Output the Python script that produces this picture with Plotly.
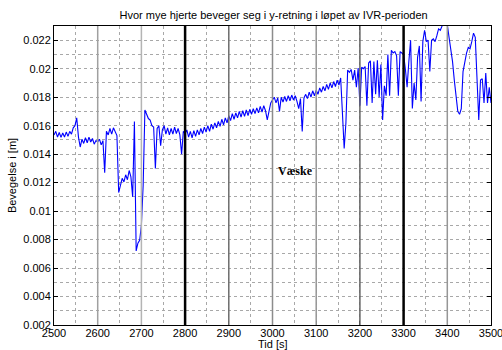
import numpy as np
import plotly.graph_objects as go

# time axis: samples every 4 s from 2500 to 3500
tid = list(range(2500, 3501, 4))

bevegelse = [
    # 2500-2596
    0.01535, 0.01560, 0.01520, 0.01552, 0.01518, 0.01548, 0.01520, 0.01555, 0.01525, 0.01560,
    0.01540, 0.01585, 0.01600, 0.01655, 0.01520, 0.01450, 0.01505, 0.01475, 0.01515, 0.01480,
    0.01520, 0.01485, 0.01510, 0.01470, 0.01495,
    # 2600-2696
    0.01485, 0.01505, 0.01465, 0.01495, 0.01270, 0.01560, 0.01535, 0.01580, 0.01540, 0.01585,
    0.01560, 0.01530, 0.01130, 0.01180, 0.01230, 0.01205, 0.01255, 0.01220, 0.01285, 0.01240,
    0.01100, 0.01630, 0.00720, 0.00775, 0.00795,
    # 2700-2796
    0.00900, 0.01180, 0.01710, 0.01680, 0.01650, 0.01640, 0.01600, 0.01590, 0.01300, 0.01580,
    0.01600, 0.01460, 0.01570, 0.01600, 0.01540, 0.01585, 0.01535, 0.01580, 0.01540, 0.01590,
    0.01545, 0.01580, 0.01535, 0.01400, 0.01560,
    # 2800-2896
    0.01545, 0.01570, 0.01520, 0.01560, 0.01515, 0.01565, 0.01525, 0.01570, 0.01535, 0.01580,
    0.01545, 0.01590, 0.01555, 0.01600, 0.01560, 0.01610, 0.01575, 0.01620, 0.01585, 0.01630,
    0.01595, 0.01645, 0.01605, 0.01655, 0.01620,
    # 2900-2996
    0.01670, 0.01635, 0.01685, 0.01645, 0.01690, 0.01655, 0.01700, 0.01660, 0.01705, 0.01665,
    0.01710, 0.01670, 0.01715, 0.01680, 0.01720, 0.01685, 0.01725, 0.01690, 0.01735, 0.01695,
    0.01740, 0.01705, 0.01640, 0.01700, 0.01760,
    # 3000-3096
    0.01780, 0.01800, 0.01760, 0.01795, 0.01700, 0.01800, 0.01765, 0.01805, 0.01770, 0.01810,
    0.01775, 0.01815, 0.01780, 0.01810, 0.01770, 0.01720, 0.01790, 0.01560, 0.01795, 0.01820,
    0.01790, 0.01835, 0.01800, 0.01845, 0.01810,
    # 3100-3196
    0.01850, 0.01820, 0.01865, 0.01835, 0.01875, 0.01845, 0.01890, 0.01855, 0.01900, 0.01865,
    0.01910, 0.01875, 0.01920, 0.01885, 0.01935, 0.01690, 0.01440, 0.01620, 0.01990, 0.01975,
    0.01995, 0.01920, 0.01990, 0.01870, 0.02005,
    # 3200-3296
    0.01740, 0.02010, 0.02000, 0.02015, 0.01740, 0.02040, 0.02055, 0.01760, 0.02050, 0.01820,
    0.02060, 0.01800, 0.02030, 0.01640, 0.01880, 0.01810, 0.02100, 0.01810, 0.02130, 0.02110,
    0.02120, 0.02090, 0.01810, 0.02120, 0.02110,
    # 3300-3396
    0.02100, 0.02000, 0.01870, 0.02050, 0.02200, 0.01720, 0.01900, 0.01780, 0.02080, 0.02160,
    0.01770, 0.02190, 0.02270, 0.02190, 0.02200, 0.01980, 0.02200, 0.02210, 0.02190, 0.02230,
    0.02280, 0.02270, 0.02310, 0.02330, 0.02320,
    # 3400-3500
    0.02310, 0.02220, 0.02150, 0.02050, 0.01920, 0.01800, 0.01700, 0.01680, 0.01720, 0.01980,
    0.02060, 0.02110, 0.02150, 0.02140, 0.02190, 0.02250, 0.02220, 0.01920, 0.01640, 0.01920,
    0.01930, 0.01760, 0.01970, 0.01760, 0.01870, 0.01760,
]

event_times = [2600, 2700, 2800, 2900, 3000, 3100, 3200, 3300, 3400]
event_colors = ["#a0a0a0", "#b4b4b4", "#000000", "#6e6e6e", "#8c8c8c",
                "#969696", "#646464", "#000000", "#969696"]
event_widths = [1.5, 1.5, 2.5, 1.5, 1.5, 1.5, 1.5, 2.5, 1.5]

xticks = [2500, 2600, 2700, 2800, 2900, 3000, 3100, 3200, 3300, 3400, 3500]
yticks = [0.002, 0.004, 0.006, 0.008, 0.01, 0.012, 0.014, 0.016, 0.018, 0.02, 0.022]
ytick_labels = ["0.002", "0.004", "0.006", "0.008", "0.01", "0.012", "0.014",
                "0.016", "0.018", "0.02", "0.022"]

fig = go.Figure()
fig.add_trace(go.Scatter(x=tid, y=bevegelse, mode="lines",
                         line=dict(color="rgb(0,0,255)", width=1.1),
                         showlegend=False, hoverinfo="skip"))

shapes = []
for t, c, w in zip(event_times, event_colors, event_widths):
    shapes.append(dict(type="line", xref="x", yref="paper", x0=t, x1=t, y0=0, y1=1,
                       line=dict(color=c, width=w), layer="above"))
fig.update_layout(shapes=shapes)

fig.add_annotation(x=3053, y=0.0128, text="<b>Væske</b>", showarrow=False,
                   font=dict(family="Liberation Serif", size=12, color="black"))
# x-axis title placed explicitly below the tick labels
fig.add_annotation(x=0.5, xref="paper", y=-0.063, yref="paper", text="Tid [s]",
                   showarrow=False, xanchor="center", yanchor="middle",
                   font=dict(family="Liberation Sans", size=11, color="black"))

axis_common = dict(showline=True, linecolor="black", linewidth=1, mirror="ticks",
                   ticks="inside", ticklen=4, tickcolor="black", automargin=False,
                   zeroline=False, showgrid=True, gridcolor="#a8a8a8", griddash="dot",
                   gridwidth=1, ticklabeloverflow="allow",
                   tickfont=dict(family="Liberation Sans", size=11, color="black"))

fig.update_xaxes(range=[2500, 3500], tickvals=xticks, **axis_common,
                 ticklabelstandoff=-2,
                 minor=dict(dtick=50, tick0=2500, showgrid=True, gridcolor="#a8a8a8",
                            griddash="dot", ticks=""))
fig.update_yaxes(range=[0.002, 0.023], tickvals=yticks, ticktext=ytick_labels, **axis_common,
                 minor=dict(dtick=0.001, tick0=0.002, showgrid=True, gridcolor="#a8a8a8",
                            griddash="dot", ticks=""),
                 title=dict(text="Bevegelse i [m]", standoff=4,
                            font=dict(family="Liberation Sans", size=11, color="black")))

fig.update_layout(
    width=502, height=350,
    margin=dict(l=54, r=11, t=26, b=25),
    paper_bgcolor="white", plot_bgcolor="white",
    title=dict(text="Hvor mye hjerte beveger seg i y-retning i løpet av IVR-perioden",
               x=0.545, xanchor="center", y=0.957, yanchor="middle",
               font=dict(family="Liberation Sans", size=11, color="black")),
)

fig.write_html("out.html")
